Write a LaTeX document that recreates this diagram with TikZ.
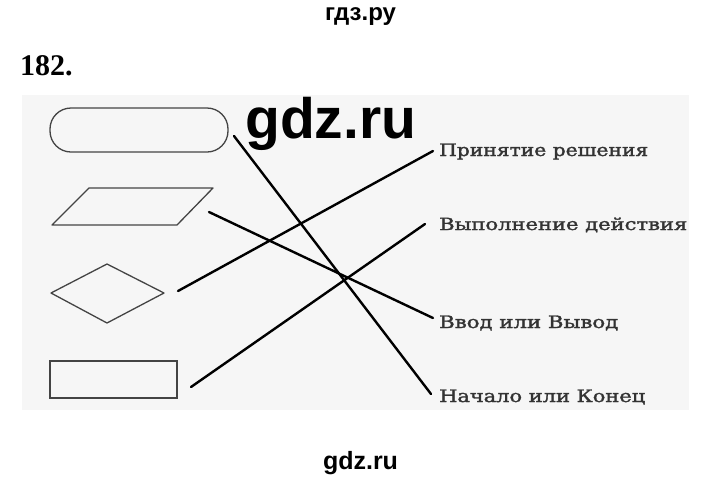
\documentclass[tikz,border=0pt]{standalone}
\usepackage{fontspec}
\setmainfont{DejaVu Serif}
\newfontfamily\lblfont[FakeBold=1.6]{DejaVu Serif}
\newfontfamily\wmfont{Liberation Sans}
\newfontfamily\numfont{Liberation Serif}
\usepackage{graphicx}
\definecolor{bgpage}{HTML}{F6F6F6}
\definecolor{inktext}{HTML}{333333}
\definecolor{inkshape}{HTML}{444444}
\tikzset{
  shapeline/.style={draw=inkshape, line width=1.3pt},
  connector/.style={draw=black, line width=2.4pt, line cap=round},
  lbl/.style={anchor=base west, inner sep=0pt, text=inktext},
}
\newcommand{\lbltext}[2]{\resizebox{#1}{12.5pt}{\lblfont #2}}
\begin{document}
\begin{tikzpicture}[x=1pt,y=-1pt]
\useasboundingbox (0,0) rectangle (720,480);
% scanned page background
\fill[bgpage] (22,95) rectangle (689,410);
% headers
\node[anchor=base, inner sep=0pt] (hdr) at (360.5,20) {\wmfont\bfseries\fontsize{24}{26}\selectfont гдз.ру};
\node[anchor=base west, inner sep=0pt] (num) at (20,75) {\numfont\bfseries\fontsize{30}{32}\selectfont 182.};
\node[anchor=base, inner sep=0pt] (ftr) at (360.5,469) {\wmfont\bfseries\fontsize{25}{27}\selectfont gdz.ru};
% shapes
\node[shapeline, rectangle, rounded corners=21pt, minimum width=178pt, minimum height=44pt, inner sep=0pt] (term) at (139,130) {};
\draw[shapeline, line join=round] (52,225) -- (89,188) -- (213,188) -- (177,225) -- cycle;
\draw[shapeline, line join=round] (51,293) -- (107,264) -- (164,293) -- (107,323) -- cycle;
\node[shapeline, rectangle, minimum width=127pt, minimum height=37pt, inner sep=0pt] (proc) at (113.5,379.5) {};
% labels
\node[lbl] (decision) at (439,156) {\lbltext{209pt}{Принятие решения}};
\node[lbl] (action) at (439,230) {\lbltext{248pt}{Выполнение действия}};
\node[lbl] (io) at (439,328) {\lbltext{179pt}{Ввод или Вывод}};
\node[lbl] (startend) at (439,402) {\lbltext{206pt}{Начало или Конец}};
% connector ends
\coordinate (s1) at (234,136);
\coordinate (s2) at (209,212);
\coordinate (s3) at (178,291);
\coordinate (s4) at (191,387);
\coordinate (e1) at (431,394);
\coordinate (e2) at (433,318);
\coordinate (e3) at (433,151);
\coordinate (e4) at (425,224);
\draw[connector] (s1) -- (e1);
\draw[connector] (s2) -- (e2);
\draw[connector] (s3) -- (e3);
\draw[connector] (s4) -- (e4);
% watermark
\node[anchor=base west, inner sep=0pt] (wm) at (245,138) {\wmfont\bfseries\fontsize{57}{60}\selectfont gdz.ru};
\end{tikzpicture}
\end{document}
